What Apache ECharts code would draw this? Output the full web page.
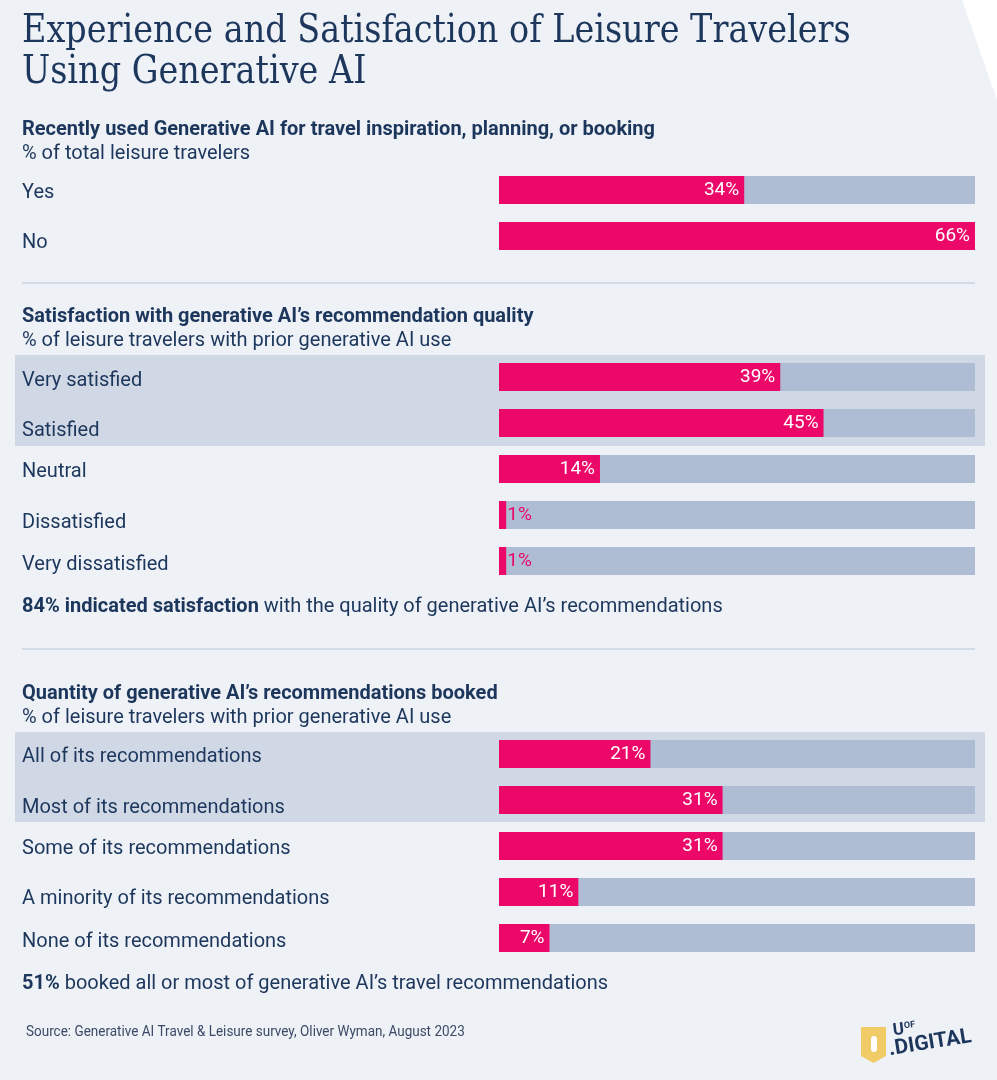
<!DOCTYPE html>
<html>
<head>
<meta charset="utf-8">
<script src="https://cdn.jsdelivr.net/npm/echarts@6/dist/echarts.min.js"></script>
<style>
html,body{margin:0;padding:0;background:#eef1f6;}
#c{width:997px;height:1080px;}
</style>
</head>
<body>
<div id="c"></div>
<script>
// ---- data ----
const usedCategories = ['Yes', 'No'];
const usedValues = [34, 66];
const satisfactionCategories = ['Very satisfied', 'Satisfied', 'Neutral', 'Dissatisfied', 'Very dissatisfied'];
const satisfactionValues = [39, 45, 14, 1, 1];
const bookedCategories = ['All of its recommendations', 'Most of its recommendations', 'Some of its recommendations', 'A minority of its recommendations', 'None of its recommendations'];
const bookedValues = [21, 31, 31, 11, 7];
const axisMax = 66;

// ---- style ----
const NAVY = '#1c365c';
const PINK = '#ec0868';
const GREY = '#aebdd4';
const BAND = '#d0d8e5';
const FONT = 'Roboto, sans-serif';
// small vertical nudges (px) of the row labels, as in the reference layout
const labelNudge = [[3, 7], [4, 8, 3, 8, 4], [3, 8, 3, 7, 4]];

const chart = echarts.init(document.getElementById('c'), null, {renderer: 'canvas'});

const grids = [
  {left: 499, width: 476, top: 167, height: 92},
  {left: 499, width: 476, top: 354, height: 230},
  {left: 499, width: 476, top: 731, height: 230}
];
const sets = [
  [usedCategories, usedValues],
  [satisfactionCategories, satisfactionValues],
  [bookedCategories, bookedValues]
];

const xAxes = [], yAxes = [], series = [];
sets.forEach(([cats, vals], i) => {
  xAxes.push({gridIndex: i, type: 'value', min: 0, max: axisMax, show: false});
  const rich = {};
  for (let n = 0; n <= 9; n++) {
    rich['s' + n] = {color: NAVY, fontFamily: FONT, fontSize: 20, padding: [n * 2, 0, 0, 0]};
  }
  yAxes.push({
    gridIndex: i, type: 'category', data: cats, inverse: true,
    axisLine: {show: false}, axisTick: {show: false}, splitLine: {show: false},
    axisLabel: {
      align: 'left', margin: 477, color: NAVY, fontFamily: FONT, fontSize: 20,
      formatter: (v, idx) => '{s' + (labelNudge[i][idx] || 0) + '|' + v + '}',
      rich: rich
    }
  });
  series.push({
    type: 'bar', xAxisIndex: i, yAxisIndex: i, barWidth: 28,
    showBackground: true, backgroundStyle: {color: GREY},
    itemStyle: {color: PINK},
    silent: true, animation: false,
    data: vals.map(v => v < 3 ? {
      value: v,
      label: {position: 'right', distance: 1, color: PINK}
    } : v),
    label: {
      show: true, position: 'insideRight', distance: 5,
      formatter: '{c}%', color: '#ffffff', fontFamily: FONT, fontSize: 19
    }
  });
});

const txt = (x, y, text, opts) => ({
  type: 'text', x: x, y: y, silent: true,
  style: Object.assign({text: text, fill: NAVY, font: '20px ' + FONT, textVerticalAlign: 'middle'}, opts || {})
});
const TITLE_FONT = '40px "DejaVu Serif Condensed", "DejaVu Serif", serif';

const graphic = [
  {type: 'polygon', shape: {points: [[962, 0], [997, 0], [997, 100]]}, style: {fill: '#ffffff'}, silent: true},
  {type: 'rect', shape: {x: 15, y: 355, width: 970, height: 91}, style: {fill: BAND}, z: -1, silent: true},
  {type: 'rect', shape: {x: 15, y: 732, width: 970, height: 90}, style: {fill: BAND}, z: -1, silent: true},
  {type: 'rect', shape: {x: 22, y: 282, width: 953, height: 2}, style: {fill: '#d3dbe7'}, silent: true},
  {type: 'rect', shape: {x: 22, y: 648, width: 953, height: 2}, style: {fill: '#d3dbe7'}, silent: true},
  Object.assign(txt(22, 32, 'Experience and Satisfaction of Leisure Travelers', {font: TITLE_FONT}), {scaleX: 0.93}),
  Object.assign(txt(22, 73, 'Using Generative AI', {font: TITLE_FONT}), {scaleX: 0.93}),
  txt(22, 130, 'Recently used Generative AI for travel inspiration, planning, or booking', {font: 'bold 20px ' + FONT}),
  txt(22, 154, '% of total leisure travelers'),
  txt(22, 317, 'Satisfaction with generative AI\u2019s recommendation quality', {font: 'bold 20px ' + FONT}),
  txt(22, 341, '% of leisure travelers with prior generative AI use'),
  txt(22, 607, '{b|84% indicated satisfaction} with the quality of generative AI\u2019s recommendations', {
    rich: {b: {fontWeight: 'bold', fontSize: 20, fontFamily: FONT, fill: NAVY}}
  }),
  txt(22, 694, 'Quantity of generative AI\u2019s recommendations booked', {font: 'bold 20px ' + FONT}),
  txt(22, 718, '% of leisure travelers with prior generative AI use'),
  txt(22, 984, '{b|51%} booked all or most of generative AI\u2019s travel recommendations', {
    rich: {b: {fontWeight: 'bold', fontSize: 20, fontFamily: FONT, fill: NAVY}}
  }),
  Object.assign(txt(26, 1032, 'Source: Generative AI Travel & Leisure survey, Oliver Wyman, August 2023', {font: '15px ' + FONT, fill: '#3b4a66'}), {scaleX: 0.9}),
  // logo
  {type: 'polygon', shape: {points: [[861, 1027], [886, 1027], [886, 1056], [873.5, 1063], [861, 1056]]}, style: {fill: '#f1cc66'}, silent: true},
  {type: 'rect', shape: {x: 871, y: 1036, width: 6, height: 16, r: 3}, style: {fill: '#ffffff'}, silent: true},
  {type: 'text', x: 893, y: 1031, rotation: 0.12, silent: true,
   style: {text: 'U', fill: NAVY, font: 'bold 17px ' + FONT, textVerticalAlign: 'middle'}},
  {type: 'text', x: 904, y: 1026, rotation: 0.12, silent: true,
   style: {text: 'OF', fill: NAVY, font: 'bold 9px ' + FONT, textVerticalAlign: 'middle'}},
  {type: 'text', x: 889, y: 1050, rotation: 0.16, silent: true,
   style: {text: '.DIGITAL', fill: NAVY, font: 'bold 21px ' + FONT, textVerticalAlign: 'middle'}}
];

chart.setOption({
  backgroundColor: '#eef1f6',
  animation: false,
  grid: grids,
  xAxis: xAxes,
  yAxis: yAxes,
  series: series,
  graphic: graphic
});
</script>
</body>
</html>
